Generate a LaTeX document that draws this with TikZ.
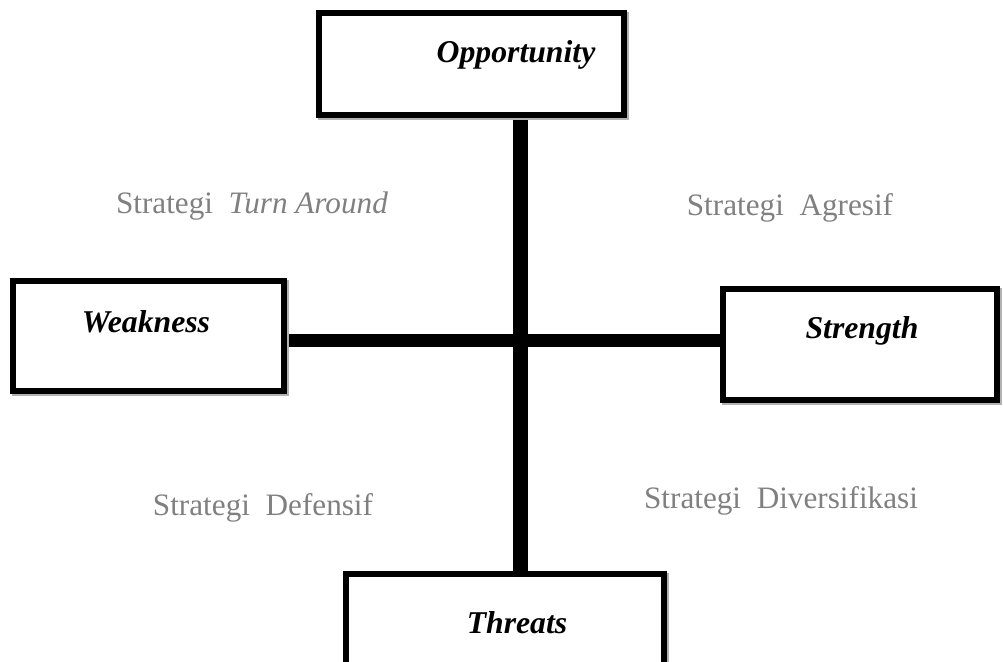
\documentclass[tikz,border=0pt]{standalone}
\usepackage{fontspec}
\setmainfont{Liberation Serif}
\newfontfamily\timesfam{Liberation Serif}
\usetikzlibrary{backgrounds}
\begin{document}
\begin{tikzpicture}[x=0.75pt,y=-0.75pt,
  shadowed/.style={preaction={draw=black!30,transform canvas={shift={(1.2pt,-1.6pt)}}}},
  quadbox/.style={draw=black,line width=4.5pt,fill=white,inner sep=0pt,shadowed},
  axis/.style={line width=#1,draw=black,shadowed},
  boxlabel/.style={font=\timesfam\fontsize{23.8}{28}\selectfont\bfseries\itshape,anchor=base,inner sep=0pt},
  strat/.style={font=\timesfam\fontsize{23.4}{28}\selectfont,text=black!50,anchor=base,inner sep=0pt}]
\useasboundingbox (0,0) rectangle (1003,661);
\clip (0,0) rectangle (1003,661);

% crossing point of the two axes
\coordinate (c) at (520,340);

% the four quadrant boxes (empty frames)
\node[quadbox,minimum width=305pt*0.75,minimum height=102pt*0.75] (opp) at (471.5,64) {};
\node[quadbox,minimum width=271pt*0.75,minimum height=110pt*0.75] (weak) at (148.5,336) {};
\node[quadbox,minimum width=274pt*0.75,minimum height=111pt*0.75] (str) at (860,344.5) {};
\node[quadbox,minimum width=318pt*0.75,minimum height=160pt*0.75] (thr) at (505,654) {};

% axes between the boxes, kept behind the frames
\begin{pgfonlayer}{background}
\draw[axis=11.25pt] (c |- opp.south) -- (c |- thr.north);
\draw[axis=9.75pt] (weak.east |- c) -- (str.west |- c);
\end{pgfonlayer}

% box titles
\node[boxlabel] (oppt) at (516,62) {Opportunity};
\node[boxlabel] (weakt) at (146,332) {Weakness};
\node[boxlabel] (strt) at (862,338) {Strength};
\node[boxlabel] (thrt) at (517,633) {Threats};

% strategy names in the quadrants
\node[strat] (s1) at (252,213) {Strategi\ \ \textit{Turn Around}};
\node[strat] (s2) at (790,215) {Strategi\ \ Agresif};
\node[strat] (s3) at (263,515) {Strategi\ \ Defensif};
\node[strat] (s4) at (781,508) {Strategi\ \ Diversifikasi};
\end{tikzpicture}
\end{document}
